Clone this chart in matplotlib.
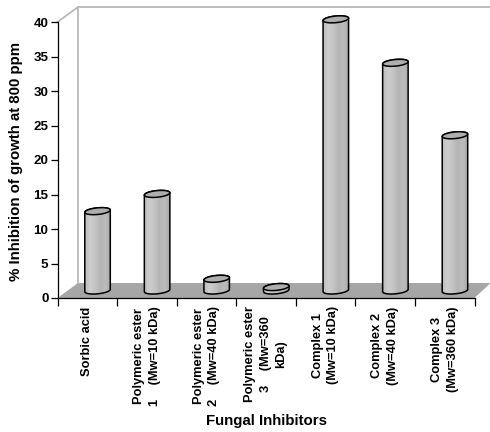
#!/usr/bin/env python
import numpy as np
import matplotlib
matplotlib.use('Agg')
import matplotlib.pyplot as plt
from matplotlib.colors import LinearSegmentedColormap
from matplotlib.patches import PathPatch, Polygon
from matplotlib.path import Path

plt.rcParams['font.family'] = ['Liberation Sans', 'DejaVu Sans']
plt.rcParams['font.weight'] = 'bold'

# values
labels = ['Sorbic acid',
          'Polymeric ester\n1    (Mw=10 kDa)',
          'Polymeric ester\n2    (Mw=40 kDa)',
          'Polymeric ester\n3    (Mw=360\nkDa)',
          'Complex 1\n(Mw=10 kDa)',
          'Complex 2\n(Mw=40 kDa)',
          'Complex 3\n(Mw=360 kDa)']
values = [11.5, 14.0, 1.7, 0.5, 39.3, 33.0, 22.5]
yticks = [0, 5, 10, 15, 20, 25, 30, 35, 40]

# depth of the fake 3d box, in data units
DX = 0.344
DY = 2.17
A = 0.214    # half width of a cylinder
B = 0.48     # half height of the end ellipse
TILT = 0.17  # ellipse rises to the right

fig = plt.figure(figsize=(4.9, 4.32), dpi=100)
ax = fig.add_axes([57.5 / 490, 134 / 432, 417 / 490, 276 / 432])

side = LinearSegmentedColormap.from_list('side', ['#bdbdbd', '#cdcdcd', '#c4c4c4', '#b4b4b4', '#bcbcbc', '#aaaaaa'])
grad = np.linspace(0, 1, 64).reshape(1, -1)


def ellipse(cx, cy, t):
    return np.column_stack([cx + A * np.cos(t), cy + B * np.sin(t) + TILT * np.cos(t)])


# floor and back wall
ax.add_patch(Polygon([(0, 0), (7, 0), (7 + 0.27, DY), (DX, DY)], closed=True, fc='#a6a6a6', ec='none',
                     clip_on=False, zorder=1))
ax.plot([0, DX, DX], [40, 40 + DY, DY], color='#b8b8b8', lw=1.3, clip_on=False, zorder=1)
ax.plot([DX, 7.4], [40 + DY, 40 + DY], color='#b8b8b8', lw=1.3, clip_on=False, zorder=1)

for i, v in enumerate(values):
    cx = i + 0.5 + DX / 2
    y0 = DY / 2
    y1 = y0 + v
    bottom = ellipse(cx, y0, np.linspace(np.pi, 2 * np.pi, 40))
    top = ellipse(cx, y1, np.linspace(0, np.pi, 40))
    pts = np.vstack([bottom, top, bottom[:1]])
    body = PathPatch(Path(pts), fc='none', ec='black', lw=1.1, clip_on=False, zorder=4)
    ax.add_patch(body)
    im = ax.imshow(grad, cmap=side, aspect='auto', extent=[cx - A, cx + A, y0 - 1, y1 + 1], zorder=3)
    im.set_clip_path(PathPatch(Path(pts), transform=ax.transData))
    im.set_clip_box(None)
    cap = ellipse(cx, y1, np.linspace(0, 2 * np.pi, 60))
    ax.add_patch(Polygon(cap, closed=True, fc='#aeaeae', ec='black', lw=1.1, clip_on=False, zorder=5))

ax.set_xlim(0, 7)
ax.set_ylim(0, 40)

for name in ['top', 'right']:
    ax.spines[name].set_visible(False)
for name in ['left', 'bottom']:
    ax.spines[name].set_linewidth(0.9)
    ax.spines[name].set_zorder(6)

ax.set_yticks(yticks)
ax.tick_params(axis='y', labelsize=9.6, length=5, width=0.9, pad=1.5)
ax.set_xticks(np.arange(0, 8))
ax.set_xticklabels([])
ax.tick_params(axis='x', which='major', length=6, width=0.9)
ax.set_xticks(np.arange(7) + 0.5, minor=True)
ax.set_xticklabels(labels, minor=True, rotation=90, fontsize=9.3, va='top', ha='center',
                   multialignment='center', linespacing=1.4)
ax.tick_params(axis='x', which='minor', length=0, pad=6)

fig.text(16.5 / 490, 1 - 161.5 / 432, '% Inhibition of growth at 800 ppm', rotation=90,
         fontsize=10.85, ha='center', va='center')
fig.text(266 / 490, 1 - 421.5 / 432, 'Fungal Inhibitors', fontsize=10.8, ha='center', va='center')

fig.savefig('out.png', dpi=100)
